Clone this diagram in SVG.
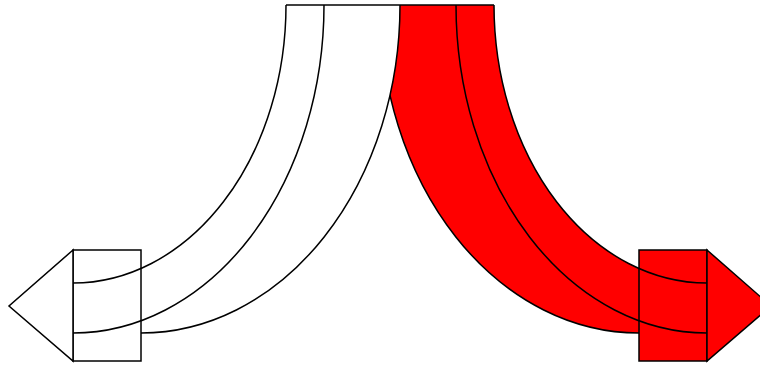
<svg xmlns="http://www.w3.org/2000/svg" width="760" height="366" viewBox="0 0 760 366">
  <style>
    .ln { fill: none; stroke: #000; stroke-width: 1.5; stroke-linejoin: round; }
    .wf { fill: #fff; stroke: none; }
    .rf { fill: #ff0000; stroke: none; }
    .wb { fill: #fff; stroke: #000; stroke-width: 1.5; stroke-linejoin: miter; }
    .rb { fill: #ff0000; stroke: #000; stroke-width: 1.5; stroke-linejoin: miter; }
  </style>
  <rect width="760" height="366" fill="#fff"/>
  <g id="red-arrow">
    <path class="rf" d="M 380 5 L 494 5 A 213 278 0 0 0 707 283 L 707 333 L 639 333 A 259 328 0 0 1 380 5 Z"/>
    <rect class="rb" x="639" y="250" width="68" height="111"/>
    <polygon class="rb" points="707,250 771,306 707,361"/>
    <path class="ln" d="M 400 5 L 494 5"/>
    <path class="ln" d="M 494 5 A 213 278 0 0 0 707 283"/>
    <path class="ln" d="M 456 5 A 251 328 0 0 0 707 333"/>
    <path class="ln" d="M 380 5 A 259 328 0 0 0 639 333"/>
  </g>
  <g id="white-arrow">
    <path class="wf" d="M 286 5 L 400 5 A 259 328 0 0 1 141 333 L 73 333 L 73 283 A 213 278 0 0 0 286 5 Z"/>
    <rect class="wb" x="73" y="250" width="68" height="111"/>
    <polygon class="wb" points="73,250 9,306 73,361"/>
    <path class="ln" d="M 286 5 L 400 5"/>
    <path class="ln" d="M 286 5 A 213 278 0 0 1 73 283"/>
    <path class="ln" d="M 324 5 A 251 328 0 0 1 73 333"/>
    <path class="ln" d="M 400 5 A 259 328 0 0 1 141 333"/>
  </g>
  <g id="connectors"></g>
</svg>
